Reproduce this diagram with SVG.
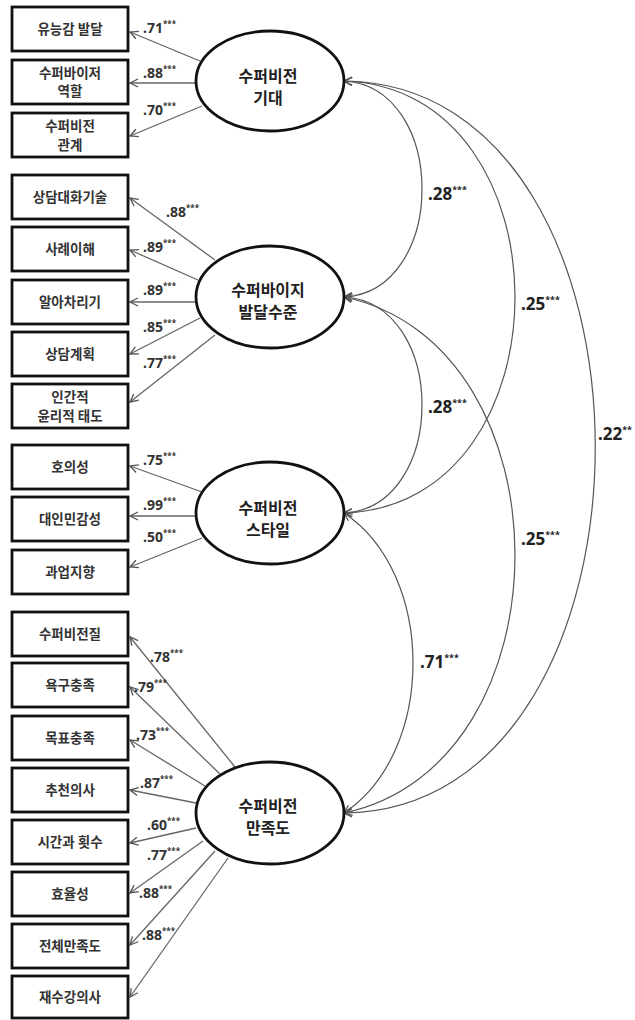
<svg xmlns="http://www.w3.org/2000/svg" width="635" height="1020" viewBox="0 0 635 1020">
<style>
.box{fill:#fff;stroke:#111;stroke-width:2.8}
.lat{fill:#fff;stroke:#111;stroke-width:2.8}
.bt{font-family:"Noto Sans CJK KR","Noto Sans",sans-serif;font-size:13.5px;font-weight:bold;fill:#333;text-anchor:middle}
.lt{font-family:"Noto Sans CJK KR","Noto Sans",sans-serif;font-size:16px;font-weight:bold;fill:#222;text-anchor:middle}
.ld{font-family:"Noto Sans","Liberation Sans",sans-serif;font-size:14px;font-weight:bold;fill:#333}
.cl{font-family:"Noto Sans","Liberation Sans",sans-serif;font-size:17px;font-weight:bold;fill:#222}
.sup{font-size:8px}
.csup{font-size:9px}
.m{fill:none;stroke:#666;stroke-width:1.3;marker-end:url(#arr)}
.c{fill:none;stroke:#555;stroke-width:1.2;marker-start:url(#arr);marker-end:url(#arr)}
</style>
<defs>
<marker id="arr" viewBox="-10 -6 12 12" refX="0" refY="0" markerWidth="12" markerHeight="12" markerUnits="userSpaceOnUse" orient="auto-start-reverse" overflow="visible">
<path d="M-8,-4 L0,0 L-8,4" fill="none" stroke="#555" stroke-width="1.3"/>
</marker>
</defs>
<rect width="635" height="1020" fill="#fff"/>

<g id="connectors">
<path class="m" d="M200,61 L130,32"/>
<path class="m" d="M196,83 L130,83"/>
<path class="m" d="M202,106 L130,136"/>
<path class="m" d="M215,260 L130,198"/>
<path class="m" d="M198,280 L130,250"/>
<path class="m" d="M196,302 L130,302"/>
<path class="m" d="M200,318 L130,354"/>
<path class="m" d="M215,335 L130,402"/>
<path class="m" d="M202,492 L130,466"/>
<path class="m" d="M196,516 L130,516"/>
<path class="m" d="M202,538 L130,567"/>
<path class="m" d="M235,767 L130,637"/>
<path class="m" d="M220,774 L130,687"/>
<path class="m" d="M205,786 L130,740"/>
<path class="m" d="M196,803 L130,790"/>
<path class="m" d="M196,828 L130,843"/>
<path class="m" d="M203,841 L130,893"/>
<path class="m" d="M215,851 L130,945"/>
<path class="m" d="M228,858 L130,997"/>
<path class="c" d="M344,81 C448,87 448,291 344,297"/>
<path class="c" d="M344,81 C572,89 572,505 344,513"/>
<path class="c" d="M344,81 C679,84 679,810 344,813"/>
<path class="c" d="M344,297 C448,303 448,507 344,513"/>
<path class="c" d="M344,297 C572,345 572,765 344,813"/>
<path class="c" d="M344,513 C436,574 436,752 344,813"/>
</g>

<g id="loadings">
<text class="ld" x="143" y="33">.71<tspan class="sup" dy="-6">***</tspan></text>
<text class="ld" x="143" y="78">.88<tspan class="sup" dy="-6">***</tspan></text>
<text class="ld" x="143" y="115">.70<tspan class="sup" dy="-6">***</tspan></text>
<text class="ld" x="166" y="217">.88<tspan class="sup" dy="-6">***</tspan></text>
<text class="ld" x="143" y="252">.89<tspan class="sup" dy="-6">***</tspan></text>
<text class="ld" x="143" y="295">.89<tspan class="sup" dy="-6">***</tspan></text>
<text class="ld" x="143" y="332">.85<tspan class="sup" dy="-6">***</tspan></text>
<text class="ld" x="143" y="368">.77<tspan class="sup" dy="-6">***</tspan></text>
<text class="ld" x="143" y="465">.75<tspan class="sup" dy="-6">***</tspan></text>
<text class="ld" x="143" y="510">.99<tspan class="sup" dy="-6">***</tspan></text>
<text class="ld" x="143" y="542">.50<tspan class="sup" dy="-6">***</tspan></text>
<text class="ld" x="150" y="662">.78<tspan class="sup" dy="-6">***</tspan></text>
<text class="ld" x="134" y="692">.79<tspan class="sup" dy="-6">***</tspan></text>
<text class="ld" x="136" y="740">.73<tspan class="sup" dy="-6">***</tspan></text>
<text class="ld" x="140" y="788">.87<tspan class="sup" dy="-6">***</tspan></text>
<text class="ld" x="147" y="830">.60<tspan class="sup" dy="-6">***</tspan></text>
<text class="ld" x="147" y="860">.77<tspan class="sup" dy="-6">***</tspan></text>
<text class="ld" x="139" y="898">.88<tspan class="sup" dy="-6">***</tspan></text>
<text class="ld" x="142" y="940">.88<tspan class="sup" dy="-6">***</tspan></text>
</g>

<g id="covlabels">
<text class="cl" x="428" y="200">.28<tspan class="csup" dy="-7">***</tspan></text>
<text class="cl" x="521" y="310">.25<tspan class="csup" dy="-7">***</tspan></text>
<text class="cl" x="428" y="413">.28<tspan class="csup" dy="-7">***</tspan></text>
<text class="cl" x="598" y="440">.22<tspan class="csup" dy="-7">**</tspan></text>
<text class="cl" x="521" y="545">.25<tspan class="csup" dy="-7">***</tspan></text>
<text class="cl" x="420" y="668">.71<tspan class="csup" dy="-7">***</tspan></text>
</g>

<g id="lat1"><ellipse class="lat" cx="270" cy="81" rx="74" ry="50"/><text class="lt" x="268" y="82">수퍼비전</text><text class="lt" x="268" y="104">기대</text></g>
<g id="lat2"><ellipse class="lat" cx="270" cy="297" rx="74" ry="51"/><text class="lt" x="268" y="296">수퍼바이지</text><text class="lt" x="268" y="318">발달수준</text></g>
<g id="lat3"><ellipse class="lat" cx="270" cy="513" rx="74" ry="51"/><text class="lt" x="268" y="514">수퍼비전</text><text class="lt" x="268" y="536">스타일</text></g>
<g id="lat4"><ellipse class="lat" cx="270" cy="813" rx="74" ry="51"/><text class="lt" x="268" y="812">수퍼비전</text><text class="lt" x="268" y="834">만족도</text></g>

<g id="b1"><rect class="box" x="12" y="7" width="116" height="44"/><text class="bt" x="70" y="34">유능감 발달</text></g>
<g id="b2"><rect class="box" x="12" y="60" width="116" height="44"/><text class="bt" x="70" y="78">수퍼바이저</text><text class="bt" x="70" y="96">역할</text></g>
<g id="b3"><rect class="box" x="12" y="113" width="116" height="44"/><text class="bt" x="70" y="131">수퍼비전</text><text class="bt" x="70" y="150">관계</text></g>
<g id="b4"><rect class="box" x="12" y="175" width="116" height="44"/><text class="bt" x="70" y="202">상담대화기술</text></g>
<g id="b5"><rect class="box" x="12" y="227" width="116" height="44"/><text class="bt" x="70" y="254">사례이해</text></g>
<g id="b6"><rect class="box" x="12" y="280" width="116" height="44"/><text class="bt" x="70" y="307">알아차리기</text></g>
<g id="b7"><rect class="box" x="12" y="332" width="116" height="44"/><text class="bt" x="70" y="359">상담계획</text></g>
<g id="b8"><rect class="box" x="12" y="384" width="116" height="44"/><text class="bt" x="70" y="402">인간적</text><text class="bt" x="70" y="421">윤리적 태도</text></g>
<g id="b9"><rect class="box" x="12" y="445" width="116" height="44"/><text class="bt" x="70" y="472">호의성</text></g>
<g id="b10"><rect class="box" x="12" y="497" width="116" height="44"/><text class="bt" x="70" y="524">대인민감성</text></g>
<g id="b11"><rect class="box" x="12" y="550" width="116" height="44"/><text class="bt" x="70" y="577">과업지향</text></g>
<g id="b12"><rect class="box" x="12" y="612" width="116" height="44"/><text class="bt" x="70" y="639">수퍼비전질</text></g>
<g id="b13"><rect class="box" x="12" y="663" width="116" height="44"/><text class="bt" x="70" y="690">욕구충족</text></g>
<g id="b14"><rect class="box" x="12" y="716" width="116" height="44"/><text class="bt" x="70" y="743">목표충족</text></g>
<g id="b15"><rect class="box" x="12" y="768" width="116" height="44"/><text class="bt" x="70" y="795">추천의사</text></g>
<g id="b16"><rect class="box" x="12" y="820" width="116" height="44"/><text class="bt" x="70" y="847">시간과 횟수</text></g>
<g id="b17"><rect class="box" x="12" y="872" width="116" height="44"/><text class="bt" x="70" y="899">효율성</text></g>
<g id="b18"><rect class="box" x="12" y="924" width="116" height="44"/><text class="bt" x="70" y="951">전체만족도</text></g>
<g id="b19"><rect class="box" x="12" y="976" width="116" height="42"/><text class="bt" x="70" y="1002">재수강의사</text></g>
</svg>
